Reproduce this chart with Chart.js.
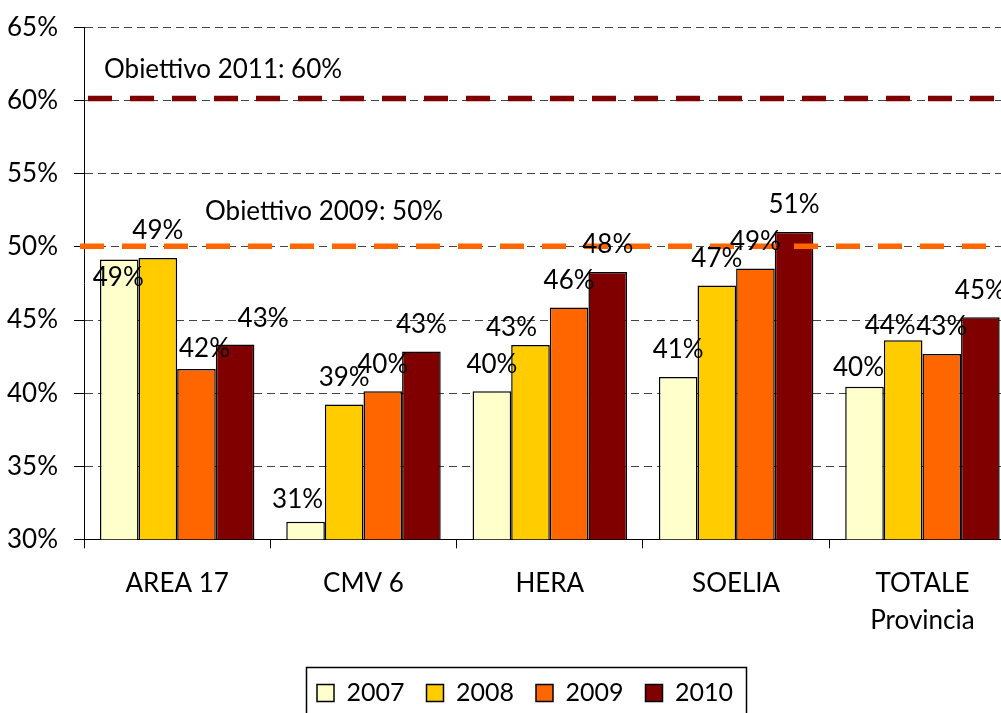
<!DOCTYPE html>
<html>
<head>
<meta charset="utf-8">
<script src="https://cdn.jsdelivr.net/npm/chart.js@4/dist/chart.umd.min.js"></script>
<style>
  html, body { margin: 0; padding: 0; background: #fff; overflow: hidden; }
  #wrap { width: 1001px; height: 713px; overflow: hidden; position: relative; }
  canvas { position: absolute; left: 0; top: 0; }
</style>
</head>
<body>
<div id="wrap"><canvas id="c" width="1050" height="720"></canvas></div>
<script>
// ---- data ----
const categories = ['AREA 17', 'CMV 6', 'HERA', 'SOELIA', ['TOTALE', 'Provincia']];
const years = ['2007', '2008', '2009', '2010'];
const v2007 = [49.14, 31.2, 40.12, 41.1, 40.44];
const v2008 = [49.25, 39.22, 43.3, 47.37, 43.62];
const v2009 = [41.65, 40.12, 45.85, 48.52, 42.67];
const v2010 = [43.32, 42.85, 48.28, 51.02, 45.19];
const yTickValues = [30, 35, 40, 45, 50, 55, 60, 65];
const targetLabels = ['Obiettivo 2011: 60%', 'Obiettivo 2009: 50%'];
const targetValues = [60.15, 50.05];

// ---- styles ----
const FONT = 'Lato';
const FS = 26;
const colors = ['#FFFFCC', '#FFCC00', '#FF6600', '#800000'];
const targetColors = ['#800000', '#FF6600'];
const targetDashOffsets = [38, 0];
const targetStartExt = [0, 4];
const targetTextOffsets = [{dx: 20, dy: -31}, {dx: 121, dy: -35}];
const labelNudge = {
  '0-0': {dx: -1, dy: 45},
  '2-0': {dx: 8, dy: 7},
  '3-0': {dx: 28, dy: 1},
  '0-1': {dx: -8, dy: 5},
  '1-2': {dx: -19, dy: 10},
  '0-4': {dx: -6, dy: 8},
  '1-4': {dx: -13, dy: 12}
};
const LEGEND_SHIFT = 17.2;

const series = [v2007, v2008, v2009, v2010];
const barSets = series.map((d, i) => ({
  label: years[i],
  data: d,
  backgroundColor: colors[i],
  borderColor: '#000',
  borderWidth: 1.5,
  borderSkipped: 'bottom',
  categoryPercentage: 0.829,
  barPercentage: 1
}));

const targetPlugin = {
  id: 'targets',
  afterDatasetsDraw(chart) {
    const ctx = chart.ctx, ca = chart.chartArea, ys = chart.scales.y;
    ctx.save();
    targetValues.forEach((t, i) => {
      const y = ys.getPixelForValue(t);
      ctx.strokeStyle = targetColors[i];
      ctx.lineWidth = 5.5;
      ctx.lineCap = 'butt';
      ctx.setLineDash([24, 18]);
      ctx.lineDashOffset = targetDashOffsets[i];
      ctx.beginPath();
      ctx.moveTo(ca.left - targetStartExt[i], y);
      ctx.lineTo(ca.right, y);
      ctx.stroke();
    });
    ctx.restore();
  }
};

const labelPlugin = {
  id: 'barLabels',
  afterDatasetsDraw(chart) {
    const ctx = chart.ctx;
    ctx.save();
    ctx.font = FS + 'px ' + FONT;
    ctx.fillStyle = '#000';
    ctx.textAlign = 'center';
    ctx.textBaseline = 'middle';
    for (let di = 0; di < series.length; di++) {
      const meta = chart.getDatasetMeta(di);
      meta.data.forEach((bar, i) => {
        const n = labelNudge[di + '-' + i] || {dx: 0, dy: 0};
        const txt = Math.round(series[di][i]) + '%';
        ctx.fillText(txt, bar.x + n.dx, bar.y - 27 + n.dy);
      });
    }
    const ys = chart.scales.y;
    ctx.textAlign = 'left';
    targetValues.forEach((t, i) => {
      const o = targetTextOffsets[i];
      ctx.fillText(targetLabels[i], chart.chartArea.left + o.dx, ys.getPixelForValue(Math.round(t)) + o.dy);
    });
    ctx.restore();
  }
};

const legendShift = {
  id: 'legendShift',
  afterLayout(chart) {
    const lg = chart.legend;
    if (lg) { lg.left += LEGEND_SHIFT; lg.right += LEGEND_SHIFT; }
  }
};

const legendBox = {
  id: 'legendBox',
  afterDraw(chart) {
    const lg = chart.legend;
    if (!lg || !lg.legendHitBoxes || !lg.legendHitBoxes.length) return;
    const hb = lg.legendHitBoxes;
    let l = Infinity, r = -Infinity, t = Infinity, b = -Infinity;
    hb.forEach(h => { l = Math.min(l, h.left); r = Math.max(r, h.left + h.width); t = Math.min(t, h.top); b = Math.max(b, h.top + h.height); });
    const cy = (t + b) / 2;
    const ctx = chart.ctx;
    ctx.save();
    ctx.strokeStyle = '#000';
    ctx.lineWidth = 1.5;
    ctx.strokeRect(Math.round(l - 11) + 0.5, Math.round(cy - 26) + 0.5, Math.round(r - l + 24), 54);
    ctx.restore();
  }
};

new Chart(document.getElementById('c'), {
  type: 'bar',
  data: { labels: categories, datasets: barSets },
  options: {
    responsive: false,
    animation: false,
    devicePixelRatio: 1,
    layout: { padding: { left: 0, right: 34.4, top: 25.3, bottom: 4.5 } },
    plugins: {
      tooltip: { enabled: false },
      legend: {
        position: 'bottom',
        labels: {
          boxWidth: 17,
          boxHeight: 17,
          padding: 22,
          color: '#000',
          font: { family: FONT, size: 25 }
        }
      }
    },
    scales: {
      x: {
        offset: true,
        grid: { display: true, drawOnChartArea: false, drawTicks: true, tickLength: 9, offset: true, color: '#000', tickColor: '#000' },
        border: { display: true, color: '#000', width: 1 },
        ticks: { color: '#000', font: { family: FONT, size: FS, lineHeight: 1.42 }, padding: 17, maxRotation: 0, autoSkip: false },
        afterFit: (s) => { s.height = 119.2; }
      },
      y: {
        min: 30, max: 65,
        afterBuildTicks: (s) => { s.ticks = yTickValues.map(v => ({value: v})); },
        ticks: { color: '#000', font: { family: FONT, size: FS, lineHeight: 0.9 }, padding: 16, callback: (v) => v + '%' },
        grid: { color: '#444', lineWidth: 1, drawTicks: true, tickLength: 10, tickColor: '#000' },
        border: { display: true, color: '#000', width: 1, dash: [8, 5] },
        afterFit: (s) => { s.width = 84; }
      }
    }
  },
  plugins: [legendShift, targetPlugin, labelPlugin, legendBox]
});
</script>
</body>
</html>
